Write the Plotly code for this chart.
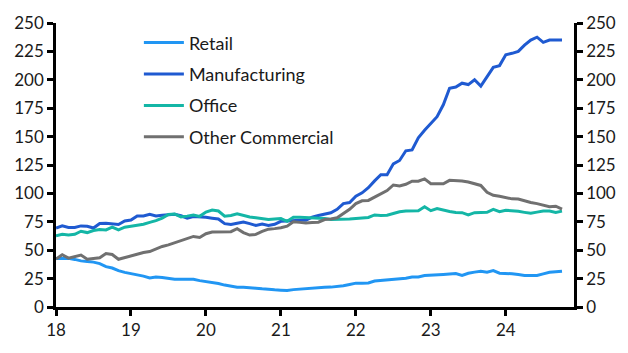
import plotly.graph_objects as go

start_year = 18
months_per_year = 12

retail = [42.8, 42.8, 42.8, 41.9, 40.6, 40.1, 39.5, 38.2, 35.5, 34.3, 32, 30.5,
          29.5, 28.4, 27.2, 25.5, 26.3, 26, 25.2, 24.4, 24.4, 24.4, 24.4, 23.2,
          22.5, 21.8, 20.7, 19.3, 18.2, 17.3, 17.3, 17.2, 16.6, 16, 15.3, 15.1,
          14.8, 14.5, 15.3, 15.8, 16.3, 16.9, 17.3, 17.3, 17.5, 17.9, 18.7, 19.8,
          21, 21, 21.2, 22.8, 23.3, 23.6, 24, 24.4, 25.4, 26.4, 26.5, 27.8,
          28.3, 28.7, 28.7, 29, 29.4, 27.8, 29.7, 30.7, 31.5, 30.6, 32, 29.8,
          29.8, 29.3, 28.6, 27.8, 27.8, 27.8, 29.2, 30.6, 31, 31.5]

manufacturing = [69.5, 71.5, 70, 70, 71.4, 71, 69.5, 73.5, 73.8, 73, 72.6, 75.8,
                 76.5, 80.2, 80.2, 81.7, 80.2, 80.8, 81.2, 81.6, 80.3, 78.2, 79.7, 79.5,
                 79, 78.2, 77.5, 73.4, 72.6, 73.8, 74.8, 73.4, 71.8, 73, 71.8, 72.8,
                 75.4, 75.8, 76.3, 76.3, 76.4, 79, 80.5, 81.5, 83, 86, 91, 92,
                 97.5, 100.5, 105, 111, 116.5, 116.5, 126, 129, 137.5, 138.3, 149, 155.5,
                 162, 167.5, 178, 192.5, 193.6, 197, 195.8, 200, 194.5, 203, 211, 212.5,
                 222, 223.3, 225, 230.5, 235, 237.5, 233, 235, 235, 235]

office = [62.6, 64, 63.4, 64, 66.7, 65.5, 67.3, 68.3, 67.8, 70.3, 67.8, 70.2,
          71, 72, 72.8, 74.5, 76, 78.2, 81.5, 81.9, 79.3, 80, 81, 79.8,
          83.6, 85.3, 84.5, 80, 80.5, 82, 80.5, 79.2, 78.6, 78, 77, 77.4,
          77.8, 75.4, 79, 78.9, 78.7, 78.3, 78.1, 77.9, 77, 77, 77.4, 77.4,
          78, 78.3, 78.8, 81, 80.5, 80.8, 82.5, 83.9, 84.6, 84.8, 84.8, 88.2,
          84.8, 86.7, 85.2, 84, 83.2, 83, 81, 83, 83.2, 83.3, 85.9, 83.9,
          85.2, 84.8, 84.2, 83.3, 82.5, 83.5, 84.4, 84.4, 83.3, 84.4]

other_commercial = [42.3, 46, 43, 44.5, 45.7, 42, 42.8, 43.4, 47, 46.2, 42, 43.5,
                    44.8, 46, 47.9, 48.8, 51, 53.3, 54.7, 56.6, 58.2, 59.8, 62.1, 61.2,
                    64.5, 66, 66.3, 66.3, 66.3, 68.9, 65.5, 63.3, 63.9, 66.5, 68.5, 69,
                    69.7, 71.2, 75, 74.5, 74, 74.3, 74.6, 77, 77.4, 78.5, 82, 86,
                    91, 93.5, 93.8, 96.8, 99.5, 102.5, 107.4, 106.6, 108, 110.8, 110.8, 112.8,
                    108.5, 108.5, 108.5, 111.5, 111.5, 111, 110, 108.3, 107, 101, 98.3, 97.5,
                    96.5, 95.2, 95, 93.2, 92, 91, 89.5, 88.2, 88.7, 86.1]

x_ticks = [18, 19, 20, 21, 22, 23, 24]
y_ticks = [0, 25, 50, 75, 100, 125, 150, 175, 200, 225, 250]

x = [start_year + i / months_per_year for i in range(len(retail))]

series = [
    ("Retail", retail, "#2196f3"),
    ("Manufacturing", manufacturing, "#1f5ad1"),
    ("Office", office, "#14b6a6"),
    ("Other Commercial", other_commercial, "#707070"),
]

fig = go.Figure()
for i, (name, vals, color) in enumerate(series):
    fig.add_trace(go.Scatter(x=x, y=vals, name=name, mode="lines",
                             line=dict(color=color, width=3),
                             legendgroup=f"g{i}"))

# invisible trace so the right axis is drawn
fig.add_trace(go.Scatter(x=x, y=retail, yaxis="y2", mode="lines",
                         line=dict(width=0), opacity=0, showlegend=False,
                         hoverinfo="skip"))

font = dict(family="Lato, 'Open Sans', sans-serif", size=17, color="#1a1a1a")
legend_font = dict(family="Lato, 'Open Sans', sans-serif", size=18, color="#1a1a1a")

axis_common = dict(showgrid=False, zeroline=False, showline=True,
                   linecolor="black", linewidth=2.5, ticks="outside",
                   ticklen=6, tickwidth=2.5, tickcolor="black",
                   tickfont=font)

fig.update_layout(
    width=628, height=353,
    margin=dict(l=56, r=54, t=13, b=46),
    paper_bgcolor="white", plot_bgcolor="white",
    font=font,
    showlegend=True,
    legend=dict(x=0.16, y=0.995, xanchor="left", yanchor="top",
                bgcolor="rgba(0,0,0,0)", font=legend_font,
                tracegroupgap=5, itemwidth=40),
    xaxis=dict(range=[18, 24.91], tickvals=x_ticks,
               ticktext=[str(v) for v in x_ticks], **axis_common),
    yaxis=dict(range=[0, 250], tickvals=y_ticks, **axis_common),
    yaxis2=dict(range=[0, 250], tickvals=y_ticks, overlaying="y",
                side="right", **axis_common),
)

fig.write_html("out.html")
